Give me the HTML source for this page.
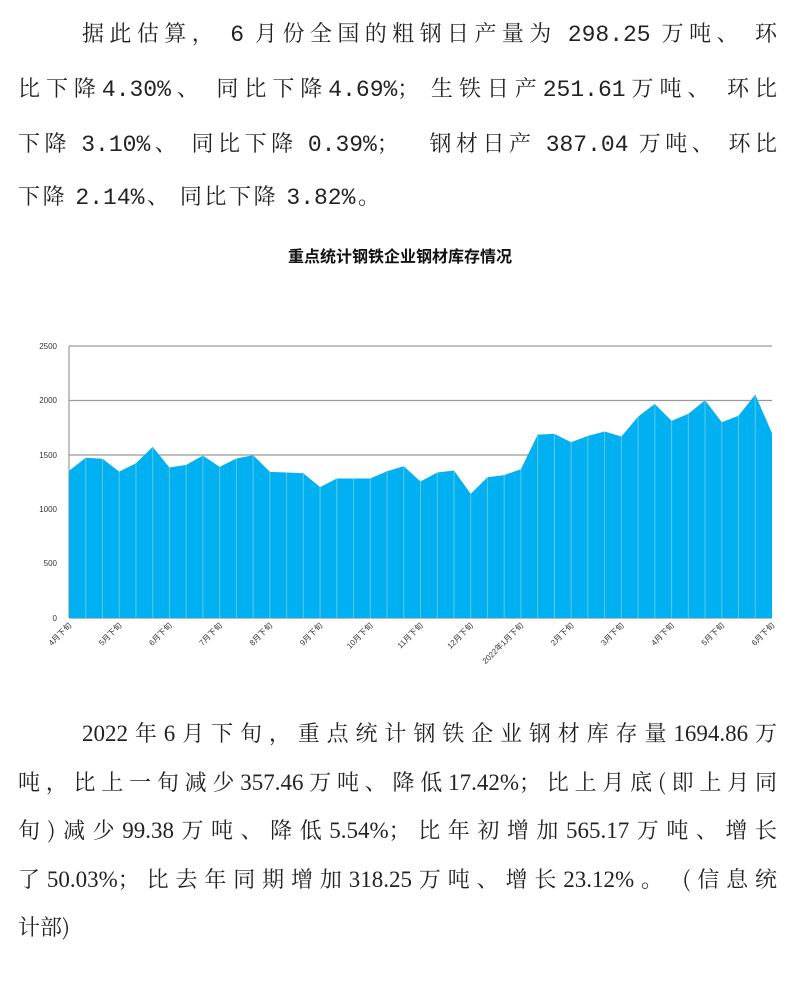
<!DOCTYPE html>
<html><head><meta charset="utf-8"><style>
body{margin:0;background:#fff;width:800px;height:982px;position:relative;overflow:hidden}
.l{position:absolute;font-family:"Noto Serif CJK SC","Liberation Serif",serif;font-size:22px;color:#222;white-space:nowrap;line-height:30px}
.j{text-align:justify;text-align-last:justify}
.l i{font-style:normal;font-family:"Liberation Mono",monospace;font-size:23px}
.l b{font-weight:normal;font-family:"Liberation Serif",serif;font-size:23px}
</style></head><body>
<div class="l j" style="left:82px;top:18px;width:695px">据此估算， <i>6</i> 月份全国的粗钢日产量为 <i>298.25</i> 万吨、 环</div>
<div class="l j" style="left:18px;top:73px;width:759px">比下降<i>4.30%</i>、 同比下降<i>4.69%</i>； 生铁日产<i>251.61</i>万吨、 环比</div>
<div class="l j" style="left:18px;top:128px;width:759px">下降 <i>3.10%</i>、 同比下降 <i>0.39%</i>；&nbsp;&nbsp; 钢材日产 <i>387.04</i> 万吨、 环比</div>
<div class="l j" style="left:18px;top:181px;width:362px">下降 <i>2.14%</i>、 同比下降 <i>3.82%</i>。</div>
<div style="position:absolute;left:0;width:800px;top:243px;text-align:center;font-family:'Liberation Sans','Noto Sans CJK SC',sans-serif;font-weight:bold;font-size:16px;color:#111">重点统计钢铁企业钢材库存情况</div>
<svg style="position:absolute;left:0;top:0" width="800" height="982">
<g stroke="#999" stroke-width="1.2">
<line x1="69" y1="346" x2="772" y2="346"/><line x1="69" y1="400.5" x2="772" y2="400.5"/><line x1="69" y1="455" x2="772" y2="455"/>
<line x1="69" y1="509" x2="772" y2="509"/><line x1="69" y1="563.5" x2="772" y2="563.5"/>
<line x1="69" y1="346" x2="69" y2="618"/>
</g>
<g id="area"></g>
<line x1="69" y1="618.5" x2="772" y2="618.5" stroke="#bbb"/>
<g font-family="Liberation Sans,Noto Sans CJK SC,sans-serif" font-size="8" fill="#333" text-anchor="end">
<text x="57" y="349">2500</text><text x="57" y="403">2000</text><text x="57" y="458">1500</text><text x="57" y="512">1000</text><text x="57" y="566">500</text><text x="57" y="621">0</text>
</g>
<g id="xl" font-family="Liberation Sans,Noto Sans CJK SC,sans-serif" font-size="8" fill="#333" text-anchor="end"></g>
</svg>
<div class="l j" style="left:82px;top:718px;width:695px"><b>2022</b>年<b>6</b>月下旬，重点统计钢铁企业钢材库存量<b>1694.86</b>万</div>
<div class="l j" style="left:18px;top:767px;width:759px">吨，比上一旬减少<b>357.46</b>万吨、降低<b>17.42%</b>；比上月底(即上月同</div>
<div class="l j" style="left:18px;top:815px;width:759px">旬)减少<b>99.38</b>万吨、降低<b>5.54%</b>；比年初增加<b>565.17</b>万吨、增长</div>
<div class="l j" style="left:18px;top:864px;width:759px">了<b>50.03%</b>；比去年同期增加<b>318.25</b>万吨、增长<b>23.12%</b>。 (信息统</div>
<div class="l" style="left:18px;top:912px">计部)</div>
<script>
var v=[1352,1472,1463,1346,1423,1573,1383,1407,1493,1389,1466,1496,1343,1337,1331,1203,1282,1282,1282,1349,1395,1255,1337,1356,1141,1294,1313,1368,1686,1692,1616,1674,1714,1668,1851,1968,1812,1876,2001,1799,1858,2053,1698];
var ns="http://www.w3.org/2000/svg",g=document.getElementById('area'),dx=703/42;
var X=i=>69+i*dx,Y=t=>618-t*0.1088;
var d="M69,618";v.forEach((t,i)=>d+=" L"+X(i).toFixed(1)+","+Y(t).toFixed(1));d+=" L772,618Z";
var p=document.createElementNS(ns,'path');p.setAttribute('d',d);p.setAttribute('fill','#00b0f0');g.appendChild(p);
v.forEach((t,i)=>{if(i==0||i==42)return;var l=document.createElementNS(ns,'line');l.setAttribute('x1',X(i));l.setAttribute('x2',X(i));l.setAttribute('y1',Y(t));l.setAttribute('y2',618);l.setAttribute('stroke','#5ec8e8');l.setAttribute('stroke-width','1');g.appendChild(l);});
var labs=["4月下旬","5月下旬","6月下旬","7月下旬","8月下旬","9月下旬","10月下旬","11月下旬","12月下旬","2022年1月下旬","2月下旬","3月下旬","4月下旬","5月下旬","6月下旬"];
var xl=document.getElementById('xl');
labs.forEach((s,k)=>{var x=X(k*3)+3,y=626;var t=document.createElementNS(ns,'text');t.setAttribute('x',x);t.setAttribute('y',y);t.setAttribute('transform','rotate(-45 '+x+' '+y+')');t.textContent=s;xl.appendChild(t);});
</script>
</body></html>
